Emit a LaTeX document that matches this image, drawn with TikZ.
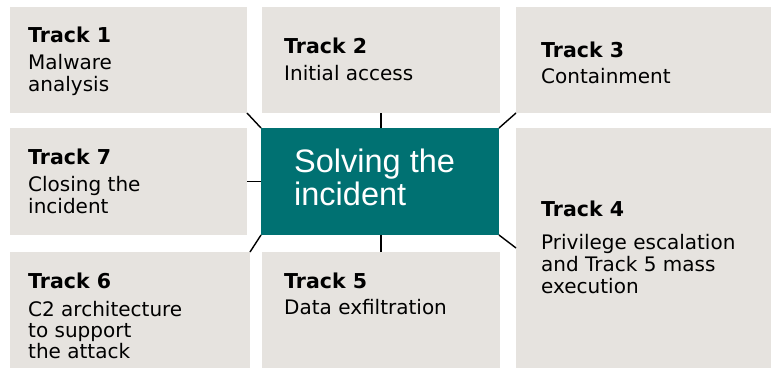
\documentclass[tikz,border=0pt]{standalone}
\usepackage{fontspec}
\setmainfont{DejaVu Sans}
\newfontfamily\hubfont{Liberation Sans}
\definecolor{boxgray}{HTML}{E6E3DF}
\definecolor{tealbox}{HTML}{007172}
\begin{document}
\begin{tikzpicture}[x=1pt,y=-1pt,
  card/.style={fill=boxgray, draw=none, inner sep=0pt, outer sep=0pt, anchor=north west},
  hub/.style={fill=tealbox, draw=none, inner sep=0pt, outer sep=0pt, anchor=north west},
  ttl/.style={anchor=base west, inner sep=0pt, font=\fontsize{20.5}{24}\selectfont\bfseries},
  body/.style={anchor=base west, inner sep=0pt, font=\fontsize{20}{22}\selectfont},
  hubtxt/.style={anchor=base west, inner sep=0pt, text=white, font=\hubfont\fontsize{32.5}{33}\selectfont},
  conn/.style={draw=black, line width=1.4pt}]
\useasboundingbox (0,0) rectangle (775,369);
% boxes
\node[card, minimum width=237pt, minimum height=106pt] (b1) at (10,7) {};
\node[card, minimum width=238pt, minimum height=106pt] (b2) at (262,7) {};
\node[card, minimum width=255pt, minimum height=106pt] (b3) at (516,7) {};
\node[card, minimum width=237pt, minimum height=107pt] (b7) at (10,128) {};
\node[hub,  minimum width=238pt, minimum height=107pt] (c) at (261,128) {};
\node[card, minimum width=255pt, minimum height=240pt] (b4) at (516,128) {};
\node[card, minimum width=240pt, minimum height=116pt] (b6) at (10,252) {};
\node[card, minimum width=238pt, minimum height=116pt] (b5) at (262,252) {};
% connectors
\draw[conn] (b1.south east) -- (c.north west);
\draw[conn] (b2.south) -- (b2.south |- c.north);
\draw[conn] (b3.south west) -- (c.north east);
\draw[conn] (b7.east) -- (c.west);
\draw[conn] (b6.north east) -- (c.south west);
\draw[conn] (b5.north) -- (b5.north |- c.south);
\draw[conn] (c.south east) -- (b4.west);
% texts
\node[hubtxt] (c1) at (294,172) {Solving the};
\node[hubtxt] (c2) at (294,205) {incident};
\node[ttl] (t1) at (28,43) {Track 1};
\node[body] (t1a) at (28,69) {Malware};
\node[body] (t1b) at (28,91) {analysis};
\node[ttl] (t2) at (284,53) {Track 2};
\node[body] (t2a) at (284,80) {Initial access};
\node[ttl] (t3) at (541,57) {Track 3};
\node[body] (t3a) at (541,83) {Containment};
\node[ttl] (t7) at (28,164) {Track 7};
\node[body] (t7a) at (28,191) {Closing the};
\node[body] (t7b) at (28,213) {incident};
\node[ttl] (t4) at (541,216) {Track 4};
\node[body] (t4a) at (541,249) {Privilege escalation};
\node[body] (t4b) at (541,271) {and Track 5 mass};
\node[body] (t4c) at (541,293) {execution};
\node[ttl] (t6) at (28,288) {Track 6};
\node[body] (t6a) at (28,316) {C2 architecture};
\node[body] (t6b) at (28,337) {to support};
\node[body] (t6c) at (28,358) {the attack};
\node[ttl] (t5) at (284,288) {Track 5};
\node[body] (t5a) at (284,314) {Data exfiltration};
\end{tikzpicture}
\end{document}
